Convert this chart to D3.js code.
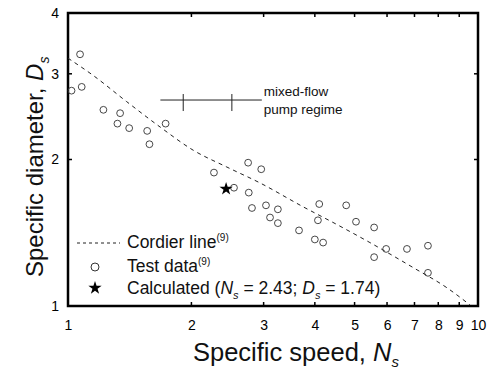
<!DOCTYPE html>
<html>
<head>
<meta charset="utf-8">
<script src="https://cdn.jsdelivr.net/npm/d3@7"></script>
<style>
  body { margin: 0; background: #fff; }
  svg { font-family: "Liberation Sans", Arial, Helvetica, sans-serif; }
</style>
</head>
<body>
<svg id="chart"></svg>
<script>
// size
const width = 498;
const height = 374;

// plot box
const margin = { top: 13, right: 20, bottom: 68, left: 68 };

// tick values
const xTicks = [1, 2, 3, 4, 5, 6, 7, 8, 9, 10];
const yTicks = [1, 2, 3, 4];

// test data (Ns, Ds)
const testNs = [1.07, 1.08, 1.02, 1.22, 1.34, 1.32, 1.41, 1.56, 1.73, 1.58,
                2.75, 2.96, 2.27, 2.54, 2.76, 2.81, 3.04, 3.25, 3.11, 3.25,
                3.66, 4.10, 4.07, 4.00, 4.19, 4.77, 5.04, 5.58, 5.58, 5.97,
                6.71, 7.55, 7.55];
const testDs = [3.29, 2.82, 2.77, 2.53, 2.49, 2.37, 2.32, 2.29, 2.37, 2.15,
                1.97, 1.91, 1.88, 1.75, 1.71, 1.59, 1.61, 1.58, 1.52, 1.48,
                1.43, 1.62, 1.50, 1.37, 1.35, 1.61, 1.49, 1.45, 1.26, 1.31,
                1.31, 1.33, 1.17];

// cordier line
const cordierNs = [1.0, 1.15, 1.39, 1.68, 2.02, 2.44, 2.94, 3.74, 4.53, 5.45, 6.94, 8.40, 9.56];
const cordierDs = [3.23, 2.98, 2.63, 2.33, 2.09, 1.93, 1.79, 1.60, 1.47, 1.35, 1.20, 1.09, 1.005];

// calculated point
const calcNs = [2.43];
const calcDs = [1.74];

// mixed-flow pump regime bar
const regimeNs = [1.68, 2.97];
const regimeBounds = [1.91, 2.51];
const regimeDs = 2.65;

const svg = d3.select("#chart")
    .attr("width", width)
    .attr("height", height);

const x = d3.scaleLog()
    .domain([1, 10])
    .range([margin.left, width - margin.right]);
const y = d3.scaleLog()
    .domain([1, 4])
    .range([height - margin.bottom, margin.top]);

const x0 = x.range()[0], x1 = x.range()[1];
const y0 = y.range()[0], y1 = y.range()[1];

// axes with inward ticks on all four sides
const inner = xTicks.slice(1, -1);
const innerY = yTicks.slice(1, -1);

const gx = svg.append("g")
    .attr("transform", `translate(0,${y0})`)
    .call(d3.axisBottom(x).tickValues(xTicks).tickSize(0).tickPadding(14).tickFormat(d3.format("d")));
gx.selectAll(".tick text").attr("font-size", 14).attr("font-family", "Liberation Sans, Arial, sans-serif");
gx.select(".domain").remove();

const gy = svg.append("g")
    .attr("transform", `translate(${x0},0)`)
    .call(d3.axisLeft(y).tickValues(yTicks).tickSize(0).tickPadding(9).tickFormat(d3.format("d")));
gy.selectAll(".tick text").attr("font-size", 14).attr("font-family", "Liberation Sans, Arial, sans-serif");
gy.select(".domain").remove();

const ticks = svg.append("g").attr("stroke", "#000").attr("stroke-width", 1.5);
ticks.selectAll(".bx").data(inner).enter().append("line")
    .attr("x1", d => x(d)).attr("x2", d => x(d))
    .attr("y1", y0).attr("y2", y0 - 4);
ticks.selectAll(".tx").data(inner).enter().append("line")
    .attr("x1", d => x(d)).attr("x2", d => x(d))
    .attr("y1", y1).attr("y2", y1 + 4);
ticks.selectAll(".ly").data(innerY).enter().append("line")
    .attr("x1", x0).attr("x2", x0 + 4)
    .attr("y1", d => y(d)).attr("y2", d => y(d));
ticks.selectAll(".ry").data(innerY).enter().append("line")
    .attr("x1", x1).attr("x2", x1 - 4)
    .attr("y1", d => y(d)).attr("y2", d => y(d));

// frame
svg.append("rect")
    .attr("x", x0).attr("y", y1)
    .attr("width", x1 - x0).attr("height", y0 - y1)
    .attr("fill", "none")
    .attr("stroke", "#000")
    .attr("stroke-width", 2.5);

// cordier line
const line = d3.line().x(d => x(d[0])).y(d => y(d[1])).curve(d3.curveMonotoneX);
svg.append("path")
    .datum(cordierNs.map((n, i) => [n, cordierDs[i]]))
    .attr("d", line)
    .attr("fill", "none")
    .attr("stroke", "#222")
    .attr("stroke-width", 1)
    .attr("stroke-dasharray", "4,4");

// test data
svg.append("g").selectAll("circle")
    .data(testNs.map((n, i) => [n, testDs[i]]))
    .enter()
    .append("circle")
    .attr("cx", d => x(d[0]))
    .attr("cy", d => y(d[1]))
    .attr("r", 3.4)
    .attr("fill", "none")
    .attr("stroke", "#333")
    .attr("stroke-width", 0.9);

// calculated point
const star = d3.symbol().type(d3.symbolStar).size(55);
svg.append("g").selectAll("path")
    .data(calcNs.map((n, i) => [n, calcDs[i]]))
    .enter()
    .append("path")
    .attr("d", star)
    .attr("transform", d => `translate(${x(d[0])},${y(d[1])})`)
    .attr("fill", "#000");

// mixed-flow regime
const reg = svg.append("g").attr("stroke", "#222").attr("stroke-width", 1);
reg.append("line")
    .attr("x1", x(regimeNs[0])).attr("x2", x(regimeNs[1]))
    .attr("y1", y(regimeDs)).attr("y2", y(regimeDs));
reg.selectAll(".b").data(regimeBounds).enter().append("line")
    .attr("x1", d => x(d)).attr("x2", d => x(d))
    .attr("y1", y(regimeDs) - 6).attr("y2", y(regimeDs) + 11);

const rt = svg.append("g").attr("font-size", 13.5).attr("fill", "#111");
rt.append("text").attr("x", x(regimeNs[1]) + 2).attr("y", y(regimeDs) - 4).text("mixed-flow");
rt.append("text").attr("x", x(regimeNs[1]) + 2).attr("y", y(regimeDs) + 14).text("pump regime");

// legend
const lg = svg.append("g").attr("font-size", 17.5).attr("fill", "#111");
lg.append("line")
    .attr("x1", 77).attr("x2", 120).attr("y1", 243).attr("y2", 243)
    .attr("stroke", "#222").attr("stroke-dasharray", "3,3");
const t1 = lg.append("text").attr("x", 127).attr("y", 248).text("Cordier line");
t1.append("tspan").attr("font-size", 10).attr("dy", -7).text("(9)");

lg.append("circle").attr("cx", 95).attr("cy", 267).attr("r", 4)
    .attr("fill", "none").attr("stroke", "#333");
const t2 = lg.append("text").attr("x", 127).attr("y", 272).text("Test data");
t2.append("tspan").attr("font-size", 10).attr("dy", -7).text("(9)");

lg.append("path").attr("d", star).attr("transform", "translate(95,288)").attr("fill", "#000");
const t3 = lg.append("text").attr("x", 127).attr("y", 294).text("Calculated (");
t3.append("tspan").attr("font-style", "italic").text("N");
t3.append("tspan").attr("font-style", "italic").attr("font-size", 11).attr("dy", 5).text("s");
t3.append("tspan").attr("dy", -5).text(" = 2.43; ");
t3.append("tspan").attr("font-style", "italic").text("D");
t3.append("tspan").attr("font-style", "italic").attr("font-size", 11).attr("dy", 5).text("s");
t3.append("tspan").attr("dy", -5).text(" = 1.74)");

// axis labels
const xl = svg.append("text")
    .attr("x", 193).attr("y", 361)
    .attr("font-size", 25.5).attr("fill", "#111")
    .text("Specific speed, ");
xl.append("tspan").attr("font-style", "italic").text("N");
xl.append("tspan").attr("font-style", "italic").attr("font-size", 15).attr("dy", 6).text("s");

const yl = svg.append("text")
    .attr("transform", "translate(43,277) rotate(-90)")
    .attr("font-size", 24).attr("fill", "#111")
    .text("Specific diameter, ");
yl.append("tspan").attr("font-style", "italic").text("D");
yl.append("tspan").attr("font-style", "italic").attr("font-size", 14).attr("dy", 6).text("s");
</script>
</body>
</html>
